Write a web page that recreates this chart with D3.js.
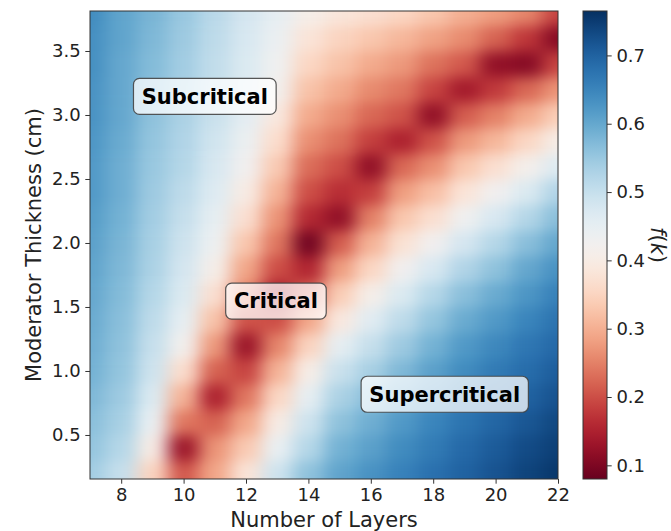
<!DOCTYPE html>
<html>
<head>
<meta charset="utf-8">
<script src="https://cdn.jsdelivr.net/npm/d3@7"></script>
<style>
  body { margin: 0; background: #fff; }
  text { font-family: "DejaVu Sans", sans-serif; }
</style>
</head>
<body>
<svg id="chart" width="671" height="531"></svg>
<script>
(function () {
'use strict';

// number of layers (columns) and moderator thickness (rows, cm)
var layers = [7, 8, 9, 10, 11, 12, 13, 14, 15, 16, 17, 18, 19, 20, 21, 22];
var thickness = [0.2, 0.4, 0.6, 0.8, 1.0, 1.2, 1.4, 1.6, 1.8, 2.0, 2.2, 2.4, 2.6, 2.8, 3.0, 3.2, 3.4, 3.6, 3.8];

// f(k) per layer, bottom to top along thickness
var fByLayer = [
    [0.54, 0.555, 0.565, 0.575, 0.585, 0.59, 0.595, 0.60, 0.605, 0.61, 0.615, 0.62, 0.62, 0.625, 0.63, 0.63, 0.635, 0.635, 0.64],
    [0.50, 0.52, 0.535, 0.545, 0.555, 0.56, 0.565, 0.57, 0.575, 0.58, 0.585, 0.59, 0.59, 0.595, 0.60, 0.60, 0.60, 0.605, 0.605],
    [0.35, 0.40, 0.445, 0.47, 0.49, 0.50, 0.51, 0.52, 0.53, 0.535, 0.54, 0.545, 0.55, 0.555, 0.56, 0.565, 0.57, 0.575, 0.58],
    [0.21, 0.13, 0.24, 0.305, 0.365, 0.42, 0.45, 0.47, 0.48, 0.49, 0.50, 0.51, 0.52, 0.525, 0.53, 0.535, 0.54, 0.545, 0.55],
    [0.29, 0.27, 0.22, 0.15, 0.22, 0.275, 0.325, 0.37, 0.41, 0.435, 0.45, 0.465, 0.475, 0.485, 0.495, 0.50, 0.505, 0.51, 0.515],
    [0.38, 0.335, 0.29, 0.24, 0.19, 0.13, 0.205, 0.25, 0.29, 0.33, 0.37, 0.40, 0.425, 0.44, 0.455, 0.465, 0.47, 0.475, 0.48],
    [0.49, 0.445, 0.40, 0.355, 0.305, 0.255, 0.20, 0.14, 0.20, 0.24, 0.27, 0.305, 0.335, 0.365, 0.39, 0.42, 0.43, 0.44, 0.45],
    [0.56, 0.52, 0.49, 0.45, 0.405, 0.35, 0.29, 0.225, 0.155, 0.09, 0.16, 0.20, 0.23, 0.265, 0.295, 0.325, 0.355, 0.38, 0.41],
    [0.605, 0.585, 0.56, 0.53, 0.495, 0.45, 0.39, 0.34, 0.28, 0.215, 0.12, 0.165, 0.20, 0.235, 0.265, 0.295, 0.325, 0.35, 0.385],
    [0.63, 0.61, 0.59, 0.565, 0.535, 0.50, 0.46, 0.41, 0.355, 0.305, 0.25, 0.185, 0.12, 0.185, 0.225, 0.26, 0.295, 0.33, 0.37],
    [0.655, 0.64, 0.62, 0.60, 0.575, 0.545, 0.51, 0.47, 0.425, 0.375, 0.33, 0.28, 0.225, 0.15, 0.205, 0.24, 0.275, 0.31, 0.355],
    [0.68, 0.665, 0.65, 0.63, 0.61, 0.585, 0.555, 0.52, 0.475, 0.425, 0.37, 0.32, 0.265, 0.205, 0.12, 0.19, 0.235, 0.285, 0.33],
    [0.70, 0.69, 0.675, 0.66, 0.64, 0.62, 0.595, 0.565, 0.525, 0.48, 0.43, 0.38, 0.33, 0.275, 0.215, 0.14, 0.21, 0.26, 0.30],
    [0.72, 0.71, 0.695, 0.68, 0.665, 0.645, 0.62, 0.595, 0.56, 0.52, 0.475, 0.425, 0.37, 0.31, 0.25, 0.18, 0.12, 0.22, 0.28],
    [0.74, 0.73, 0.715, 0.70, 0.685, 0.67, 0.65, 0.625, 0.60, 0.565, 0.52, 0.47, 0.415, 0.355, 0.295, 0.225, 0.11, 0.175, 0.255],
    [0.755, 0.745, 0.735, 0.72, 0.705, 0.69, 0.675, 0.655, 0.63, 0.60, 0.565, 0.525, 0.465, 0.405, 0.34, 0.27, 0.19, 0.11, 0.19]
];

var xTicks = [8, 10, 12, 14, 16, 18, 20, 22];
var yTicks = [0.5, 1.0, 1.5, 2.0, 2.5, 3.0, 3.5];
var colorTicks = [0.1, 0.2, 0.3, 0.4, 0.5, 0.6, 0.7];

var regionNames = ['Subcritical', 'Critical', 'Supercritical'];
var regionLayer = [10.68, 12.96, 18.37];
var regionThickness = [3.145, 1.546, 0.818];

var PLOT_LEFT = 90;
var PLOT_TOP = 11;
var PLOT_SIZE = 468;
var CBAR_LEFT = 583;
var CBAR_WIDTH = 24;

var X_MIN = 7, X_MAX = 22;
var Y_MIN = 0.156, Y_MAX = 3.8125;
var F_MIN = 0.08, F_MAX = 0.765;
var HALF_LAYER = 0.5;
var HALF_STEP = 0.1;

var TICK_SIZE = 4.7;
var TICK_PAD = 4.7;
var FONT_TICK = 18;
var FONT_LABEL = 21;
var FRAME_COLOR = '#333';
var TEXT_COLOR = '#222';

var svg = d3.select('#chart');
var defs = svg.append('defs');

var x = d3.scaleLinear().domain([X_MIN, X_MAX]).range([PLOT_LEFT, PLOT_LEFT + PLOT_SIZE]);
var y = d3.scaleLinear().domain([Y_MIN, Y_MAX]).range([PLOT_TOP + PLOT_SIZE, PLOT_TOP]);
var color = d3.scaleSequential(d3.interpolateRdBu).domain([F_MIN, F_MAX]);
var yBar = d3.scaleLinear().domain([F_MIN, F_MAX]).range([PLOT_TOP + PLOT_SIZE, PLOT_TOP]);

var styleAxis = function(g) {
    g.select('.domain').remove();
    g.attr('font-family', null).attr('font-size', null);
    g.selectAll('.tick line').attr('stroke', FRAME_COLOR).attr('stroke-width', 1);
    g.selectAll('.tick text')
        .style('font-size', FONT_TICK + 'px')
        .attr('fill', TEXT_COLOR);
};

var drawHeatmap = function() {
    var cells = [];
    layers.forEach(function(layer, i) {
        thickness.forEach(function(t, j) {
            cells.push({ layer: layer, t: t, f: fByLayer[i][j] });
        });
    });

    defs.append('clipPath').attr('id', 'plot-clip')
        .append('rect')
        .attr('x', PLOT_LEFT).attr('y', PLOT_TOP)
        .attr('width', PLOT_SIZE).attr('height', PLOT_SIZE);

    // soften the cell edges the way an interpolated image looks
    var filter = defs.append('filter').attr('id', 'smooth')
        .attr('x', '-10%').attr('y', '-10%').attr('width', '120%').attr('height', '120%')
        .attr('color-interpolation-filters', 'sRGB');
    filter.append('feGaussianBlur').attr('stdDeviation', '9 7');
    filter.append('feComponentTransfer')
        .append('feFuncA').attr('type', 'table').attr('tableValues', '1 1');

    svg.append('g')
        .attr('clip-path', 'url(#plot-clip)')
        .append('g')
        .attr('filter', 'url(#smooth)')
        .selectAll('rect')
        .data(cells)
        .enter()
        .append('rect')
        .attr('x', function(d) { return x(d.layer - HALF_LAYER); })
        .attr('y', function(d) { return y(d.t + HALF_STEP); })
        .attr('width', function(d) { return x(d.layer + HALF_LAYER) - x(d.layer - HALF_LAYER) + 0.5; })
        .attr('height', function(d) { return y(d.t - HALF_STEP) - y(d.t + HALF_STEP) + 0.5; })
        .attr('fill', function(d) { return color(d.f); });

    svg.append('rect')
        .attr('x', PLOT_LEFT).attr('y', PLOT_TOP)
        .attr('width', PLOT_SIZE).attr('height', PLOT_SIZE)
        .attr('fill', 'none')
        .attr('stroke', FRAME_COLOR)
        .attr('stroke-width', 1);
};

var drawAxes = function() {
    svg.append('g')
        .attr('transform', 'translate(0,' + (PLOT_TOP + PLOT_SIZE) + ')')
        .call(d3.axisBottom(x).tickValues(xTicks).tickSize(TICK_SIZE).tickPadding(TICK_PAD).tickSizeOuter(0))
        .call(styleAxis);

    svg.append('g')
        .attr('transform', 'translate(' + PLOT_LEFT + ',0)')
        .call(d3.axisLeft(y).tickValues(yTicks).tickFormat(d3.format('.1f'))
            .tickSize(TICK_SIZE).tickPadding(TICK_PAD).tickSizeOuter(0))
        .call(styleAxis);

    svg.append('text')
        .attr('x', PLOT_LEFT + PLOT_SIZE / 2)
        .attr('y', 527)
        .attr('text-anchor', 'middle')
        .style('font-size', FONT_LABEL + 'px')
        .attr('fill', TEXT_COLOR)
        .text('Number of Layers');

    svg.append('text')
        .attr('transform', 'translate(41,' + (PLOT_TOP + PLOT_SIZE / 2) + ') rotate(-90)')
        .attr('text-anchor', 'middle')
        .style('font-size', FONT_LABEL + 'px')
        .attr('fill', TEXT_COLOR)
        .text('Moderator Thickness (cm)');
};

var drawColorbar = function() {
    var grad = defs.append('linearGradient').attr('id', 'cbar-grad')
        .attr('x1', 0).attr('y1', 1).attr('x2', 0).attr('y2', 0);
    d3.range(0, 41).forEach(function(i) {
        var v = F_MIN + (F_MAX - F_MIN) * i / 40;
        grad.append('stop').attr('offset', (i / 40 * 100) + '%').attr('stop-color', color(v));
    });

    svg.append('rect')
        .attr('x', CBAR_LEFT).attr('y', yBar(F_MAX))
        .attr('width', CBAR_WIDTH).attr('height', yBar(F_MIN) - yBar(F_MAX))
        .attr('fill', 'url(#cbar-grad)')
        .attr('stroke', FRAME_COLOR)
        .attr('stroke-width', 1);

    svg.append('g')
        .attr('transform', 'translate(' + (CBAR_LEFT + CBAR_WIDTH) + ',0)')
        .call(d3.axisRight(yBar).tickValues(colorTicks).tickFormat(d3.format('.1f'))
            .tickSize(TICK_SIZE).tickPadding(TICK_PAD).tickSizeOuter(0))
        .call(styleAxis);

    var label = svg.append('text')
        .attr('transform', 'translate(651,' + (PLOT_TOP + PLOT_SIZE / 2) + ') rotate(90)')
        .attr('text-anchor', 'middle')
        .style('font-size', FONT_LABEL + 'px')
        .attr('fill', TEXT_COLOR);
    label.append('tspan').style('font-style', 'italic').text('f');
    label.append('tspan').text('(');
    label.append('tspan').style('font-style', 'italic').text('k');
    label.append('tspan').text(')');
};

var drawRegionLabels = function() {
    regionNames.forEach(function(name, i) {
        var g = svg.append('g')
            .attr('transform', 'translate(' + x(regionLayer[i]) + ',' + y(regionThickness[i]) + ')');
        var box = g.append('rect');
        var txt = g.append('text')
            .attr('text-anchor', 'middle')
            .attr('dy', '0.35em')
            .style('font-size', FONT_LABEL + 'px')
            .style('font-weight', 'bold')
            .attr('fill', '#000')
            .text(name);
        var w = txt.node().getComputedTextLength() + 16.5;
        box.attr('x', -w / 2).attr('y', -18)
            .attr('width', w).attr('height', 36)
            .attr('rx', 6).attr('ry', 6)
            .attr('fill', '#fff').attr('fill-opacity', 0.75)
            .attr('stroke', '#444').attr('stroke-opacity', 0.9)
            .attr('stroke-width', 1.2);
    });
};

drawHeatmap();
drawAxes();
drawColorbar();
drawRegionLabels();
})();
</script>
</body>
</html>
